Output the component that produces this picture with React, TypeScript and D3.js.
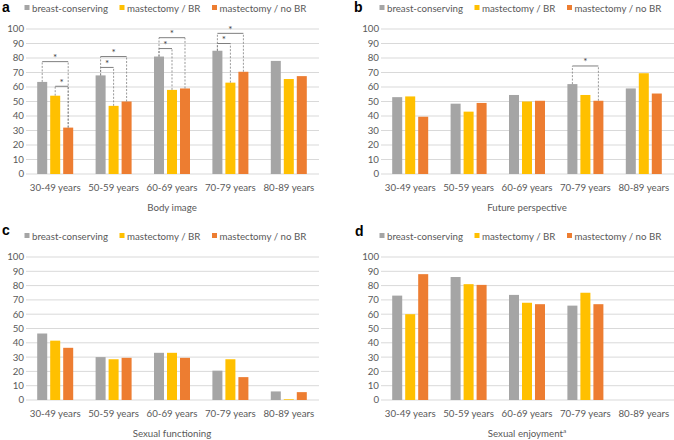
import React from "react";
import * as d3 from "d3";

const categories = ["30-49 years", "50-59 years", "60-69 years", "70-79 years", "80-89 years"];
const seriesNames = ["breast-conserving", "mastectomy / BR", "mastectomy / no BR"];
const seriesColors = ["#A5A5A5", "#FFC000", "#ED7D31"];
const yTicks = [0, 10, 20, 30, 40, 50, 60, 70, 80, 90, 100];

// a: Body image
const bodyImageBC = [63.5, 68, 81, 85, 78];
const bodyImageBR = [54, 47, 58, 63, 65.5];
const bodyImageNoBR = [32, 50, 59, 70.5, 67.5];
// b: Future perspective
const futureBC = [53, 48.5, 54.5, 62, 59];
const futureBR = [53.5, 43, 50, 54.5, 69.5];
const futureNoBR = [39.5, 49, 50.5, 50.5, 55.5];
// c: Sexual functioning
const sexFuncBC = [46.5, 30, 33, 20.5, 6];
const sexFuncBR = [41.5, 28.5, 33, 28.5, 0.5];
const sexFuncNoBR = [36.5, 29.5, 29.5, 16, 5.5];
// d: Sexual enjoyment
const sexEnjBC: (number | null)[] = [73, 86, 73.5, 66, null];
const sexEnjBR: (number | null)[] = [60, 81, 68, 75, null];
const sexEnjNoBR: (number | null)[] = [88, 80.5, 67, 67, null];

// significance brackets: category index, series from, series to, bracket level (value units)
const sigBodyImage = [
  { cat: 0, from: 0, to: 2, level: 77.5 },
  { cat: 0, from: 1, to: 2, level: 60.5 },
  { cat: 1, from: 0, to: 2, level: 81 },
  { cat: 1, from: 0, to: 1, level: 73.5 },
  { cat: 2, from: 0, to: 2, level: 94 },
  { cat: 2, from: 0, to: 1, level: 86.5 },
  { cat: 3, from: 0, to: 2, level: 97 },
  { cat: 3, from: 0, to: 1, level: 90 },
];
const sigFuture = [{ cat: 3, from: 0, to: 2, level: 74.5 }];

type Sig = { cat: number; from: number; to: number; level: number };

const FONT = "Lato, 'Liberation Sans', sans-serif";
const TXT = "#595959";
const FS = 9.7;

function Panel(props: {
  x0: number; x1: number; yTop: number; yBot: number; letter: string; letterX: number;
  letterY: number; legendY: number; series: (number | null)[][]; title: React.ReactNode;
  labelY: number; titleY: number; sig: Sig[];
}) {
  const { x0, x1, yTop, yBot, series, sig } = props;
  const x = d3.scaleBand<string>().domain(categories).range([x0, x1]).paddingInner(0).paddingOuter(0);
  const inner = d3.scaleBand<number>().domain([0, 1, 2]).range([-18, 18]).paddingInner(0.23);
  const y = d3.scaleLinear().domain([0, 100]).range([yBot, yTop]);
  const barX = (c: number, s: number) => (x(categories[c]) as number) + x.bandwidth() / 2 + (inner(s) as number);
  const bw = inner.bandwidth();
  const legendOffsets = [0, 95, 187.5];
  return (
    <g>
      <text x={props.letterX} y={props.letterY} fontFamily="'Liberation Sans', Arial, sans-serif" fontWeight="bold" fontSize={14} fill="#000">
        {props.letter}
      </text>
      {seriesNames.map((n, i) => (
        <g key={n}>
          <rect x={x0 - 1.5 + legendOffsets[i]} y={props.legendY - 6.5} width={5} height={5} fill={seriesColors[i]} />
          <text x={x0 + 6 + legendOffsets[i]} y={props.legendY} fontFamily={FONT} fontSize={FS} fill={TXT}>
            {n}
          </text>
        </g>
      ))}
      {yTicks.map((t) => (
        <g key={t}>
          <line x1={x0} x2={x1 + 1} y1={y(t)} y2={y(t)} stroke="#D9D9D9" strokeWidth={1} />
          <text x={x0 - 2} y={y(t) + 3.4} textAnchor="end" fontFamily={FONT} fontSize={FS} fill={TXT}>
            {t}
          </text>
        </g>
      ))}
      {series.map((vals, s) =>
        vals.map((v, c) =>
          v == null ? null : (
            <rect key={`${s}-${c}`} x={barX(c, s)} y={y(v)} width={bw} height={y(0) - y(v)} fill={seriesColors[s]} />
          )
        )
      )}
      {sig.map((g, i) => {
        const xa = barX(g.cat, g.from) + bw / 2;
        const xb = barX(g.cat, g.to) + bw / 2;
        const yl = y(g.level);
        const va = series[g.from][g.cat] as number;
        const vb = series[g.to][g.cat] as number;
        return (
          <g key={i}>
            <line x1={xa} x2={xa} y1={y(va)} y2={yl} stroke="#7F7F7F" strokeWidth={0.8} strokeDasharray="2,1.5" />
            <line x1={xb} x2={xb} y1={y(vb)} y2={yl} stroke="#7F7F7F" strokeWidth={0.8} strokeDasharray="2,1.5" />
            <line x1={xa} x2={xb} y1={yl} y2={yl} stroke="#7F7F7F" strokeWidth={1} />
            <text x={(xa + xb) / 2} y={yl - 0.5} textAnchor="middle" fontFamily={FONT} fontSize={10} fill="#404040">
              *
            </text>
          </g>
        );
      })}
      {categories.map((c) => (
        <text key={c} x={(x(c) as number) + x.bandwidth() / 2} y={props.labelY} textAnchor="middle" fontFamily={FONT} fontSize={FS} fill={TXT}>
          {c}
        </text>
      ))}
      <text x={(x0 + x1) / 2} y={props.titleY} textAnchor="middle" fontFamily={FONT} fontSize={FS} fill={TXT}>
        {props.title}
      </text>
    </g>
  );
}

export default function App() {
  return (
    <svg width={674} height={440} style={{ position: "absolute", left: 0, top: 0, background: "#fff" }}>
      <rect width={674} height={440} fill="#fff" />
      <Panel x0={26} x1={318} yTop={29} yBot={174} letter="a" letterX={2} letterY={11.5} legendY={11.5}
        series={[bodyImageBC, bodyImageBR, bodyImageNoBR]} title="Body image" labelY={190.5} titleY={210.5} sig={sigBodyImage} />
      <Panel x0={381} x1={673} yTop={29} yBot={174} letter="b" letterX={354} letterY={12} legendY={11.5}
        series={[futureBC, futureBR, futureNoBR]} title="Future perspective" labelY={190.5} titleY={210.5} sig={sigFuture} />
      <Panel x0={26} x1={318} yTop={257} yBot={400} letter="c" letterX={2} letterY={235} legendY={239.5}
        series={[sexFuncBC, sexFuncBR, sexFuncNoBR]} title="Sexual functioning" labelY={416.5} titleY={436.5} sig={[]} />
      <Panel x0={381} x1={673} yTop={257} yBot={400} letter="d" letterX={355} letterY={236} legendY={239.5}
        series={[sexEnjBC, sexEnjBR, sexEnjNoBR]}
        title={<>Sexual enjoyment<tspan fontSize={6.5} dy={-4}>a</tspan></>} labelY={416.5} titleY={436.5} sig={[]} />
    </svg>
  );
}
